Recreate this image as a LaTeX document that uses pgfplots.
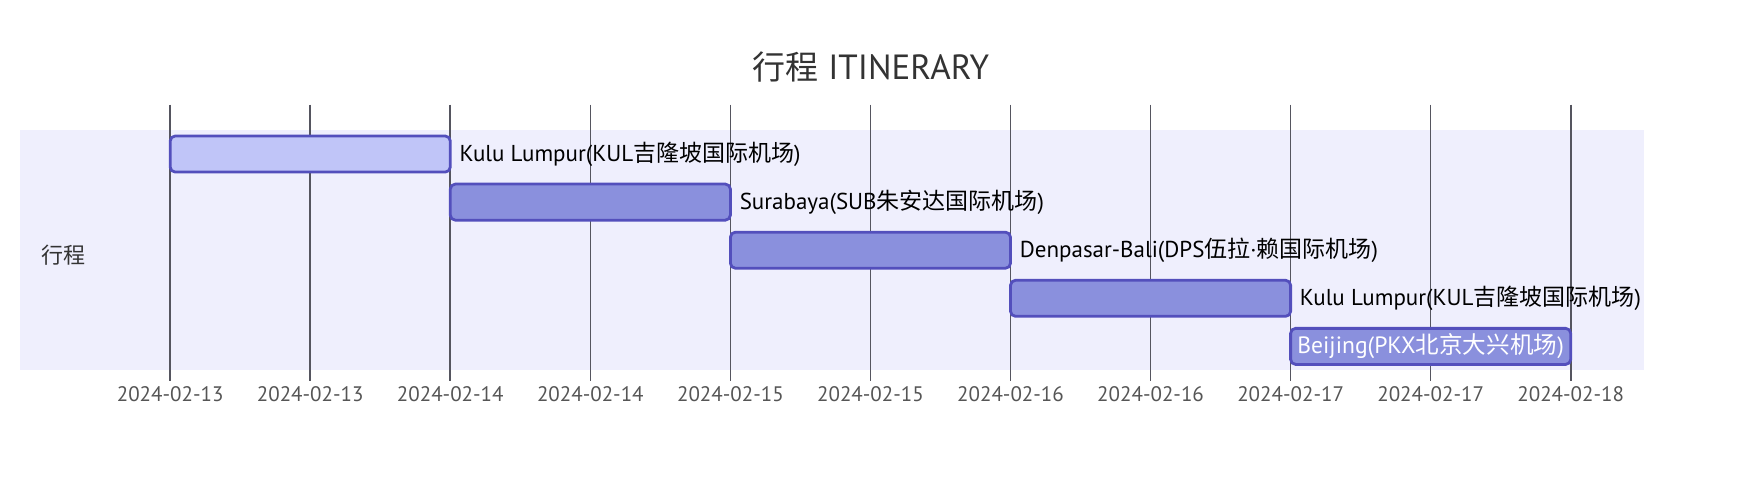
\documentclass[border=0pt]{standalone}
\usepackage{fontspec}
\setmainfont{PT Sans}
\newfontfamily\cjk{Noto Sans CJK SC}
\usepackage{pgfplots}
\pgfplotsset{compat=1.18}
\definecolor{band}{RGB}{239,239,253}
\definecolor{gridc}{RGB}{85,85,95}
\definecolor{activefill}{RGB}{192,197,248}
\definecolor{taskfill}{RGB}{138,144,221}
\definecolor{taskstroke}{RGB}{83,79,188}
\definecolor{ticktext}{RGB}{85,85,85}
\definecolor{titletext}{RGB}{51,51,51}
\begin{document}
\begin{tikzpicture}
\begin{axis}[
  at={(0,0)}, anchor=south west,
  set layers=standard,
  scale only axis, width=872pt, height=138.25pt,
  xmin=-0.6076, xmax=5.6187, ymin=-0.03, ymax=5.72, y dir=reverse,
  axis line style={draw=none},
  xtick={0,0.5,1,1.5,2,2.5,3,3.5,4,4.5,5},
  xticklabels={2024-02-13,2024-02-13,2024-02-14,2024-02-14,2024-02-15,2024-02-15,2024-02-16,2024-02-16,2024-02-17,2024-02-17,2024-02-18},
  xticklabel style={font=\fontsize{10.5}{12}\selectfont, text=ticktext, anchor=base, yshift=-10.25pt},
  ytick=\empty,
  major tick length=0pt,
  xmajorgrids,
  grid style={draw=gridc, line width=0.8pt},
  clip=false,
]
% section band
\addplot[draw=none, fill=band, on layer=axis background] coordinates {(-0.536,0.5) (5.262,0.5) (5.262,5.5) (-0.536,5.5)} --cycle;
% tasks
\addplot[fill=activefill, draw=taskstroke, line width=1.4pt, rounded corners=2.5pt] coordinates {(0,0.625) (1,0.625) (1,1.375) (0,1.375)} --cycle;
\addplot[fill=taskfill, draw=taskstroke, line width=1.4pt, rounded corners=2.5pt] coordinates {(1,1.625) (2,1.625) (2,2.375) (1,2.375)} --cycle;
\addplot[fill=taskfill, draw=taskstroke, line width=1.4pt, rounded corners=2.5pt] coordinates {(2,2.625) (3,2.625) (3,3.375) (2,3.375)} --cycle;
\addplot[fill=taskfill, draw=taskstroke, line width=1.4pt, rounded corners=2.5pt] coordinates {(3,3.625) (4,3.625) (4,4.375) (3,4.375)} --cycle;
\addplot[fill=taskfill, draw=taskstroke, line width=1.4pt, rounded corners=2.5pt] coordinates {(4,4.625) (5,4.625) (5,5.375) (4,5.375)} --cycle;
% task labels
\node[anchor=west, inner sep=0pt, font=\fontsize{11.5}{13}\selectfont] at (axis cs:1.032,1) {Kulu Lumpur(KUL{\cjk 吉隆坡国际机场})};
\node[anchor=west, inner sep=0pt, font=\fontsize{11.5}{13}\selectfont] at (axis cs:2.032,2) {Surabaya(SUB{\cjk 朱安达国际机场})};
\node[anchor=west, inner sep=0pt, font=\fontsize{11.5}{13}\selectfont] at (axis cs:3.032,3) {Denpasar-Bali(DPS{\cjk 伍拉}·{\cjk 赖国际机场})};
\node[anchor=west, inner sep=0pt, font=\fontsize{11.5}{13}\selectfont] at (axis cs:4.032,4) {Kulu Lumpur(KUL{\cjk 吉隆坡国际机场})};
\node[anchor=center, inner sep=0pt, text=white, font=\fontsize{11.8}{13}\selectfont] at (axis cs:4.5,5) {Beijing(PKX{\cjk 北京大兴机场})};
% section label
\node[anchor=west, inner sep=0pt, text=titletext, font=\cjk\fontsize{11}{13}\selectfont] at (axis cs:-0.461,3.10) {行程};
% title
\node[anchor=base, inner sep=0pt, text=titletext, font=\fontsize{17.5}{20}\selectfont] at (axis cs:2.502,-0.555) {{\cjk\fontsize{16.5}{19}\selectfont 行程} ITINERARY};
\end{axis}
\path (0pt,-56.5pt) rectangle (872pt,190.5pt);
\end{tikzpicture}
\end{document}
